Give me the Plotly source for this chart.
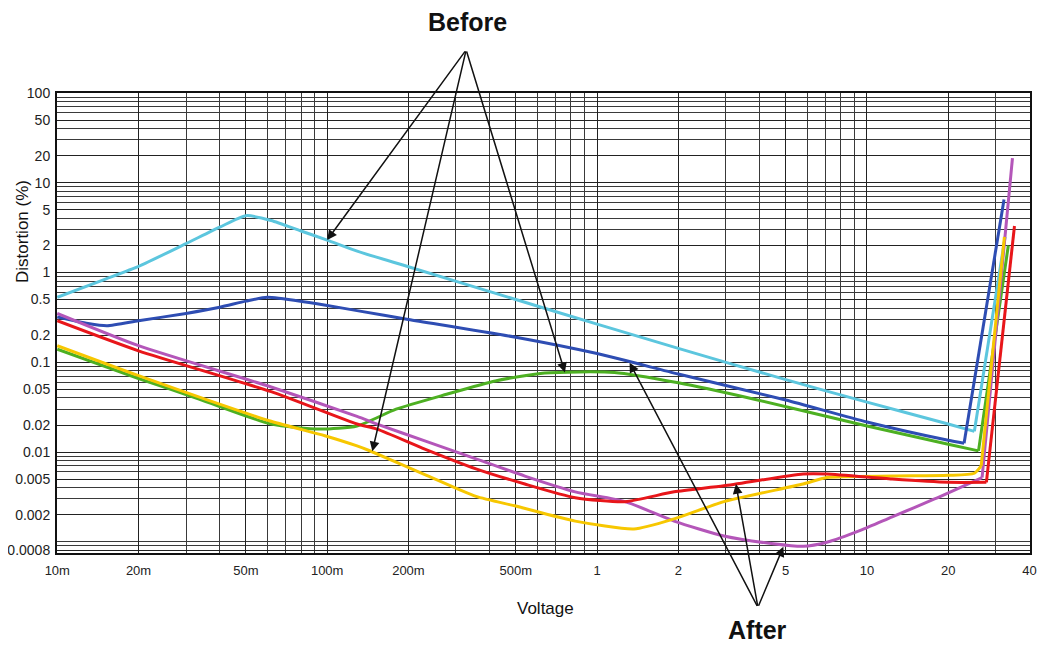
import math
import plotly.graph_objects as go

# ---------------- data ----------------
cyan_x = [0.01, 0.015, 0.02, 0.03, 0.04, 0.05, 0.062, 0.08, 0.1, 0.13, 0.2, 0.5, 1, 2, 5, 10, 20, 25, 32.5]
cyan_y = [0.53, 0.84, 1.17, 2.1, 3.2, 4.3, 3.8, 2.9, 2.3, 1.72, 1.16, 0.5, 0.266, 0.143, 0.064, 0.036, 0.0205, 0.017, 2.5]

blue_x = [0.01, 0.013, 0.0153, 0.02, 0.03, 0.04, 0.05, 0.06, 0.083, 0.1, 0.129, 0.2, 0.5, 1, 2, 5, 10, 20, 22.9, 32.2]
blue_y = [0.32, 0.27, 0.255, 0.29, 0.35, 0.41, 0.48, 0.53, 0.47, 0.43, 0.376, 0.30, 0.19, 0.125, 0.074, 0.038, 0.0216, 0.0135, 0.0125, 6.5]

green_x = [0.01, 0.02, 0.0335, 0.062, 0.094, 0.129, 0.18, 0.277, 0.42, 0.64, 1.16, 2, 3.79, 10, 20, 25.9, 33.4]
green_y = [0.14, 0.066, 0.039, 0.0205, 0.018, 0.0195, 0.030, 0.044, 0.062, 0.076, 0.077, 0.059, 0.039, 0.0195, 0.0122, 0.0103, 2.0]

yellow_x = [0.01, 0.02, 0.062, 0.098, 0.129, 0.143, 0.23, 0.356, 0.5, 0.83, 1.37, 1.93, 2.95, 5.8, 7.1, 12.4, 20, 25, 26.5, 32.3]
yellow_y = [0.153, 0.071, 0.022, 0.0152, 0.0117, 0.0104, 0.0056, 0.0032, 0.0025, 0.0017, 0.00139, 0.0018, 0.0028, 0.0044, 0.0052, 0.0054, 0.0055, 0.0058, 0.007, 2.5]

red_x = [0.01, 0.02, 0.062, 0.129, 0.153, 0.23, 0.356, 0.54, 0.83, 1.27, 1.93, 2.95, 5.8, 7.1, 12.4, 20, 27.7, 35.2]
red_y = [0.29, 0.134, 0.047, 0.0205, 0.018, 0.0108, 0.0065, 0.0044, 0.0031, 0.0028, 0.0036, 0.0042, 0.0057, 0.0057, 0.005, 0.0046, 0.0046, 3.3]

magenta_x = [0.01, 0.02, 0.062, 0.129, 0.153, 0.23, 0.356, 0.54, 0.83, 1.27, 1.93, 2.95, 4.5, 5.8, 7.1, 9.5, 12.4, 17.8, 26.7, 34.6]
magenta_y = [0.35, 0.153, 0.053, 0.025, 0.0205, 0.0133, 0.0084, 0.0054, 0.0036, 0.0028, 0.0017, 0.00116, 0.00095, 0.00089, 0.00099, 0.00135, 0.0019, 0.003, 0.0052, 18.8]

x_tick_vals = [0.01, 0.02, 0.05, 0.1, 0.2, 0.5, 1, 2, 5, 10, 20, 40]
x_tick_text = ["10m", "20m", "50m", "100m", "200m", "500m", "1", "2", "5", "10", "20", "40"]
y_tick_vals = [100, 50, 20, 10, 5, 2, 1, 0.5, 0.2, 0.1, 0.05, 0.02, 0.01, 0.005, 0.002, 0.0008]
y_tick_text = ["100", "50", "20", "10", "5", "2", "1", "0.5", "0.2", "0.1", "0.05", "0.02", "0.01", "0.005", "0.002", "0.0008"]

# arrow targets (voltage, distortion) for the two callouts
before_targets = [(0.1, 2.3), (0.147, 0.0102), (0.76, 0.077)]
after_targets = [(1.32, 0.099), (3.27, 0.0044), (4.9, 0.00088)]

# ---------------- figure ----------------
series = [
    ("cyan", cyan_x, cyan_y, "#5CC6DE"),
    ("blue", blue_x, blue_y, "#2E4DB3"),
    ("green", green_x, green_y, "#4DB022"),
    ("magenta", magenta_x, magenta_y, "#B456B9"),
    ("yellow", yellow_x, yellow_y, "#F7C700"),
    ("red", red_x, red_y, "#E8161A"),
]

fig = go.Figure()
for name, xs, ys, col in series:
    # smooth body of the curve
    fig.add_trace(go.Scatter(x=xs[:-1], y=ys[:-1], mode="lines", name=name,
                             line=dict(color=col, width=3, shape="spline", smoothing=0.6),
                             showlegend=False))
    # sharp overload rise at the end
    fig.add_trace(go.Scatter(x=xs[-2:], y=ys[-2:], mode="lines", name=name,
                             line=dict(color=col, width=3), showlegend=False))

def minor_vals(lo, hi):
    vals = []
    for e in range(lo, hi):
        for d in range(1, 10):
            vals.append(d * 10 ** e)
    return vals

font_family = "Liberation Sans, Arial, sans-serif"

fig.update_xaxes(
    type="log", range=[-2.001, math.log10(40) + 0.002], automargin=False,
    tickmode="array", tickvals=x_tick_vals, ticktext=x_tick_text,
    showgrid=True, gridcolor="#222222", gridwidth=1.3,
    minor=dict(tickmode="array", tickvals=minor_vals(-2, 2), showgrid=True,
               gridcolor="#3a3a3a", gridwidth=1.1, ticks=""),
    showline=True, linecolor="#111", linewidth=2, mirror=True,
    ticks="", ticklabelstandoff=4, tickfont=dict(family=font_family, size=13, color="#222"),
    zeroline=False,
)
fig.update_yaxes(
    type="log", range=[math.log10(0.00075), 2.0], automargin=False,
    tickmode="array", tickvals=y_tick_vals, ticktext=y_tick_text,
    showgrid=True, gridcolor="#222222", gridwidth=1.3,
    minor=dict(tickmode="array", tickvals=minor_vals(-4, 2), showgrid=True,
               gridcolor="#3a3a3a", gridwidth=1.1, ticks=""),
    showline=True, linecolor="#111", linewidth=2, mirror=True,
    ticks="", ticklabelstandoff=2, tickfont=dict(family=font_family, size=14, color="#222"),
    zeroline=False,
)

# the page places the figure 8 px in from the top-left corner
OFF = 8
W, H = 1045 - 2 * OFF, 653 - 2 * OFF
L = 57 - OFF
R = W - (1030 - OFF)
T = 93 - OFF
B = H - (553 - OFF)
pw, ph = W - L - R, H - T - B

def px(xp):
    return (xp - OFF - L) / pw

def py(yp):
    return (H - (yp - OFF) - B) / ph

annotations = []
before_apex = (-0.485, 2.48)   # log10 coords above the plot
after_apex = (0.596, -3.73)    # log10 coords below the plot
for tx, ty in before_targets:
    annotations.append(dict(x=math.log10(tx), y=math.log10(ty), xref="x", yref="y",
                            ax=before_apex[0], ay=before_apex[1], axref="x", ayref="y",
                            text="", showarrow=True, arrowhead=2, arrowsize=1.3,
                            arrowwidth=1.5, arrowcolor="#111"))
for tx, ty in after_targets:
    annotations.append(dict(x=math.log10(tx), y=math.log10(ty), xref="x", yref="y",
                            ax=after_apex[0], ay=after_apex[1], axref="x", ayref="y",
                            text="", showarrow=True, arrowhead=2, arrowsize=1.3,
                            arrowwidth=1.5, arrowcolor="#111"))
txt = dict(xref="paper", yref="paper", showarrow=False, xanchor="center", yanchor="middle")
annotations += [
    dict(x=px(467), y=py(22), text="<b>Before</b>",
         font=dict(family=font_family, size=25, color="#111"), **txt),
    dict(x=px(757), y=py(630), text="<b>After</b>",
         font=dict(family=font_family, size=25, color="#111"), **txt),
    dict(x=px(545), y=py(608), text="Voltage",
         font=dict(family=font_family, size=17, color="#111"), **txt),
    dict(x=px(22), y=py(232), text="Distortion (%)", textangle=-90,
         font=dict(family=font_family, size=17, color="#111"), **txt),
]

fig.update_layout(
    width=W, height=H,
    margin=dict(l=L, r=R, t=T, b=B),
    paper_bgcolor="white", plot_bgcolor="white",
    annotations=annotations,
    font=dict(family=font_family),
)

fig.write_html("out.html")
